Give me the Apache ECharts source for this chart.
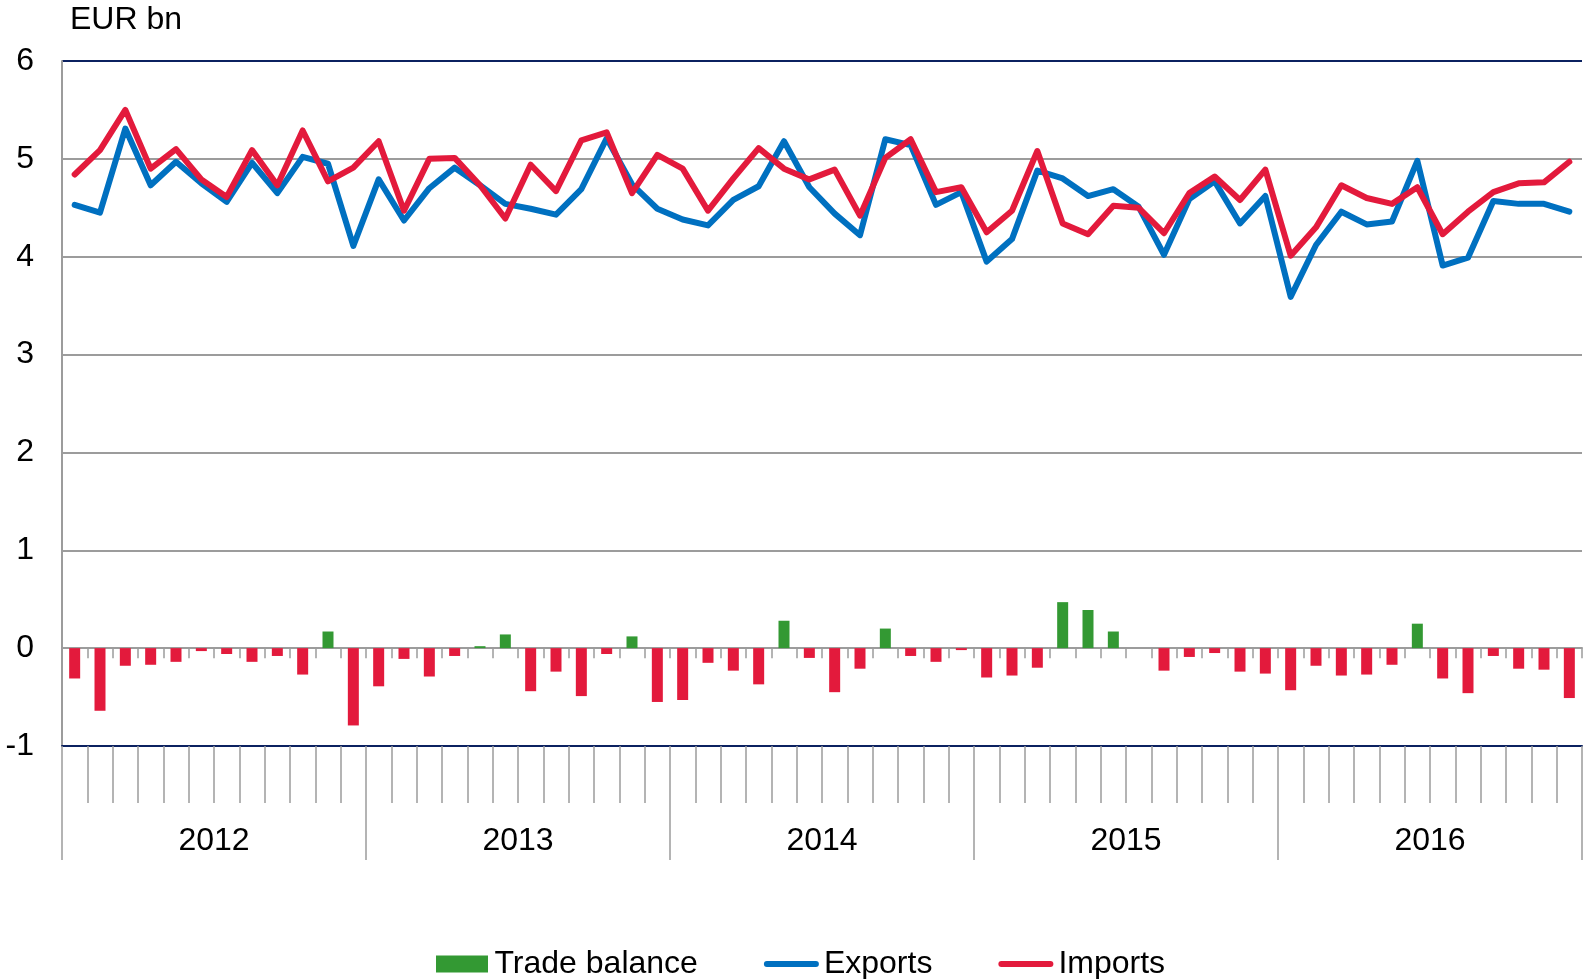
<!DOCTYPE html>
<html>
<head>
<meta charset="utf-8">
<script src="https://cdn.jsdelivr.net/npm/echarts@6/dist/echarts.min.js"></script>
<style>
html,body{margin:0;padding:0;background:#fff;}
#chart{width:1583px;height:979px;}
</style>
</head>
<body>
<div id="chart"></div>
<script>
const years = ['2012', '2013', '2014', '2015', '2016'];
const months = [
  '2012-01','2012-02','2012-03','2012-04','2012-05','2012-06','2012-07','2012-08','2012-09','2012-10','2012-11','2012-12',
  '2013-01','2013-02','2013-03','2013-04','2013-05','2013-06','2013-07','2013-08','2013-09','2013-10','2013-11','2013-12',
  '2014-01','2014-02','2014-03','2014-04','2014-05','2014-06','2014-07','2014-08','2014-09','2014-10','2014-11','2014-12',
  '2015-01','2015-02','2015-03','2015-04','2015-05','2015-06','2015-07','2015-08','2015-09','2015-10','2015-11','2015-12',
  '2016-01','2016-02','2016-03','2016-04','2016-05','2016-06','2016-07','2016-08','2016-09','2016-10','2016-11','2016-12'
];
const exportsData = [
  4.53, 4.45, 5.31, 4.73, 4.97, 4.75, 4.56, 4.96, 4.65, 5.02, 4.95, 4.11, 4.79, 4.37, 4.70,
  4.91, 4.73, 4.54, 4.49, 4.43, 4.69, 5.21, 4.74, 4.49, 4.38, 4.32, 4.58, 4.72, 5.18, 4.71,
  4.44, 4.22, 5.20, 5.14, 4.53, 4.66, 3.95, 4.18, 4.88, 4.80, 4.62, 4.69, 4.51, 4.02, 4.59,
  4.77, 4.34, 4.62, 3.59, 4.12, 4.46, 4.33, 4.36, 4.98, 3.91, 3.99, 4.57, 4.54, 4.54, 4.46
];
const importsData = [
  4.84, 5.09, 5.50, 4.90, 5.10, 4.79, 4.61, 5.09, 4.73, 5.29, 4.77, 4.91, 5.18, 4.47, 5.00,
  5.01, 4.73, 4.39, 4.94, 4.67, 5.19, 5.27, 4.65, 5.04, 4.90, 4.47, 4.80, 5.11, 4.90, 4.79,
  4.89, 4.42, 5.01, 5.20, 4.66, 4.71, 4.25, 4.47, 5.08, 4.34, 4.23, 4.52, 4.50, 4.24, 4.65,
  4.82, 4.58, 4.89, 4.01, 4.30, 4.73, 4.60, 4.54, 4.71, 4.23, 4.46, 4.66, 4.75, 4.76, 4.97
];
const balanceData = [
  -0.31, -0.64, -0.18, -0.17, -0.14, -0.03, -0.06, -0.14, -0.08, -0.27, 0.17, -0.79, -0.39, -0.11, -0.29,
  -0.08, 0.02, 0.14, -0.44, -0.24, -0.49, -0.06, 0.12, -0.55, -0.53, -0.15, -0.23, -0.37, 0.28, -0.10,
  -0.45, -0.21, 0.20, -0.08, -0.14, -0.02, -0.30, -0.28, -0.20, 0.47, 0.39, 0.17, 0.00, -0.23, -0.09,
  -0.05, -0.24, -0.26, -0.43, -0.18, -0.28, -0.27, -0.17, 0.25, -0.31, -0.46, -0.08, -0.21, -0.22, -0.51
];

const GREEN = '#339933', BLUE = '#0070C0', RED = '#E31A3C', NAVY = '#0B2160', GRAY = '#9C9C9C';
const FONT = 'Liberation Sans, Arial, sans-serif';
const LINE_ICON = 'path://M3,0L52,0A3,3,0,0,1,52,6L3,6A3,3,0,0,1,3,0Z';
const BAR_ICON = 'path://M0,0L52,0L52,17L0,17Z';

const chart = echarts.init(document.getElementById('chart'));
chart.setOption({
  animation: false,
  backgroundColor: '#fff',
  title: {
    text: 'EUR bn', left: 65, top: -1,
    textStyle: { fontFamily: FONT, fontSize: 32, fontWeight: 'normal', color: '#000' }
  },
  legend: {
    left: 431, top: 943,
    itemWidth: 55, itemHeight: 17, itemGap: 66,
    symbolKeepAspect: true,
    textStyle: { fontFamily: FONT, fontSize: 32, color: '#000' },
    data: [
      { name: 'Trade balance', icon: BAR_ICON },
      { name: 'Exports', icon: LINE_ICON },
      { name: 'Imports', icon: LINE_ICON }
    ]
  },
  grid: { left: 62, right: 1, top: 61, bottom: 233, containLabel: false },
  xAxis: [
    {
      type: 'category', data: months, position: 'bottom', boundaryGap: true,
      axisLine: { show: true, onZero: false, lineStyle: { color: NAVY, width: 2 } },
      axisTick: { show: true, interval: 0, length: 57, lineStyle: { color: GRAY, width: 1.5 } },
      axisLabel: { show: false }, splitLine: { show: false }
    },
    {
      type: 'category', data: years, position: 'bottom', boundaryGap: true,
      axisLine: { show: false, onZero: false },
      axisTick: { show: true, interval: 0, length: 114, lineStyle: { color: GRAY, width: 1.5 } },
      axisLabel: { show: true, interval: 0, margin: 80, fontFamily: FONT, fontSize: 32, color: '#000', lineHeight: 30 },
      splitLine: { show: false }
    },
    {
      type: 'category', data: months, position: 'bottom', boundaryGap: true,
      axisLine: { show: true, onZero: true, lineStyle: { color: GRAY, width: 2 } },
      axisTick: { show: true, interval: 0, length: 10, lineStyle: { color: GRAY, width: 1.5 } },
      axisLabel: { show: false }, splitLine: { show: false }
    }
  ],
  yAxis: {
    type: 'value', min: -1, max: 6, interval: 1,
    axisLine: { show: true, lineStyle: { color: GRAY, width: 2 } },
    axisTick: { show: false },
    axisLabel: { margin: 28, fontFamily: FONT, fontSize: 32, color: '#000' },
    splitLine: { show: true, lineStyle: { color: [NAVY, GRAY, GRAY, GRAY, GRAY, GRAY, GRAY, NAVY], width: 2 } }
  },
  series: [
    {
      name: 'Trade balance', type: 'bar', xAxisIndex: 0, barWidth: 11,
      itemStyle: { color: GREEN },
      data: balanceData.map(v => v < 0 ? { value: v, itemStyle: { color: RED } } : v)
    },
    {
      name: 'Exports', type: 'line', xAxisIndex: 0, data: exportsData,
      symbol: 'none', showSymbol: false, z: 3,
      lineStyle: { color: BLUE, width: 6, join: 'round', cap: 'round' }, itemStyle: { color: BLUE }
    },
    {
      name: 'Imports', type: 'line', xAxisIndex: 0, data: importsData,
      symbol: 'none', showSymbol: false, z: 4,
      lineStyle: { color: RED, width: 6, join: 'round', cap: 'round' }, itemStyle: { color: RED }
    }
  ]
});
</script>
</body>
</html>
